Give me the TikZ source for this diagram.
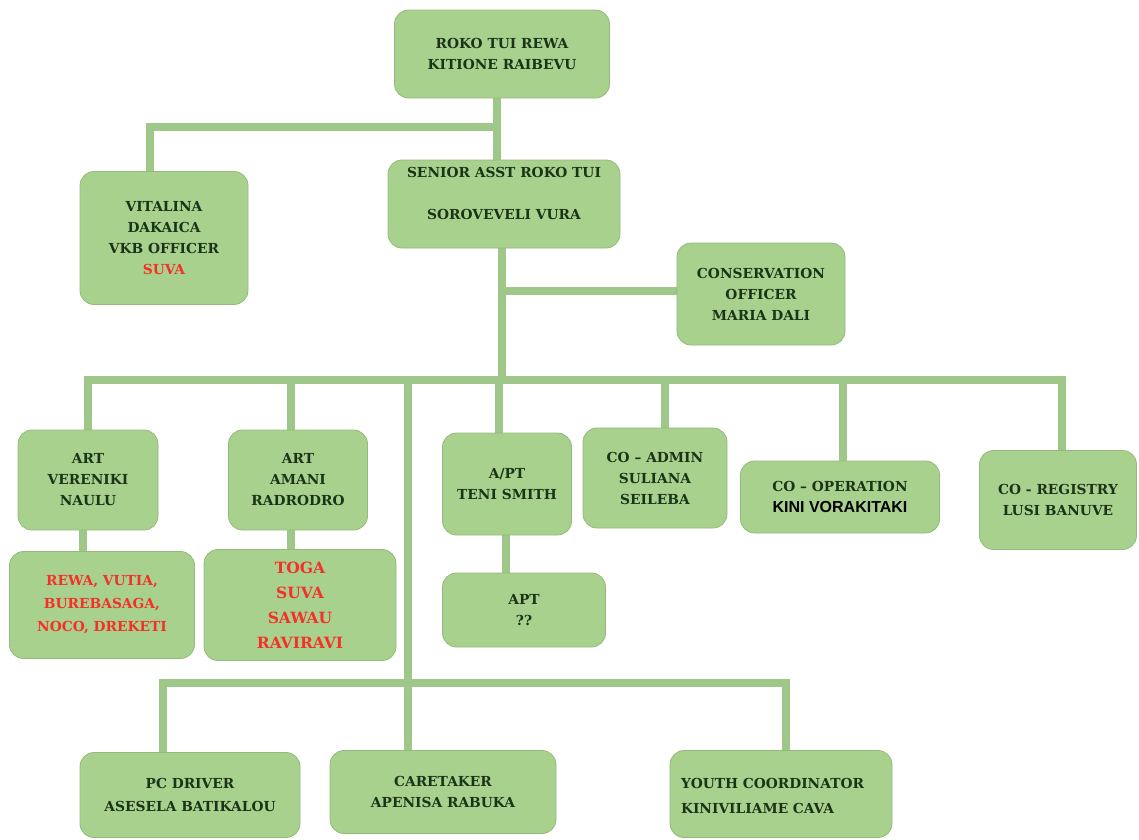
\documentclass[tikz,border=0pt]{standalone}
\usepackage{fontspec}
\setmainfont{DejaVu Serif}
\usepackage{xcolor}
\usepackage{tikz}
\usetikzlibrary{positioning, backgrounds}

\definecolor{boxgreen}{HTML}{A9D18E}
\definecolor{boxedge}{HTML}{93B97C}
\definecolor{linegreen}{HTML}{9FC789}
\definecolor{inkgreen}{HTML}{1B3317}
\definecolor{placered}{HTML}{F5302A}

\begin{document}
\begin{tikzpicture}[
  x=1pt, y=-1pt,
  font=\bfseries\fontsize{13.8}{21}\selectfont,
  post/.style={draw=boxedge, line width=0.8pt, fill=boxgreen, rounded corners=14pt, align=center, text=inkgreen, inner sep=2pt},
  places/.style={post, text=placered},
  conn/.style={draw=linegreen, line width=7.5pt}
]
\useasboundingbox (0,0) rectangle (1139,839);

\coordinate (jTop) at (497,127);
\coordinate (jSenior) at (502,291);
\coordinate (jMain) at (502,380);
\coordinate (jLow) at (408,683);

% head and senior assistant
\node[post, minimum width=215, minimum height=88] (roko) at (502,54) {ROKO TUI REWA\\KITIONE RAIBEVU};
\node[post, minimum width=232, minimum height=88] (senior) at (504,204) {SENIOR ASST ROKO TUI\\ \\SOROVEVELI VURA\\ \mbox{}};
\node[post, minimum width=168, minimum height=133] (vital) at (164,238) {VITALINA\\DAKAICA\\VKB OFFICER\\\textcolor{placered}{SUVA}};
\node[post, minimum width=168, minimum height=102] (cons) at (761,294) {CONSERVATION\\OFFICER\\MARIA DALI};

% second row
\node[post, minimum width=140, minimum height=100] (artv) at (88,480) {ART\\VERENIKI\\NAULU};
\node[post, minimum width=139, minimum height=100] (arta) at (298,480) {ART\\AMANI\\RADRODRO};
\node[post, minimum width=129, minimum height=102] (apt) at (507,484) {A/PT\\TENI SMITH};
\node[post, minimum width=144, minimum height=100] (coadmin) at (655,478) {CO -- ADMIN\\SULIANA\\SEILEBA};
\node[post, minimum width=199, minimum height=72] (coop) at (840,497) {CO -- OPERATION\\{\fontspec{Liberation Sans}\bfseries\fontsize{16}{23}\selectfont\color{black}KINI VORAKITAKI}};
\node[post, minimum width=157, minimum height=99] (coreg) at (1058,500) {CO - REGISTRY\\LUSI BANUVE};

% districts and assistant
\node[places, minimum width=185, minimum height=107, font=\bfseries\fontsize{13.8}{23}\selectfont] (rewa) at (102,605) {REWA, VUTIA,\\BUREBASAGA,\\NOCO, DREKETI};
\node[places, minimum width=192, minimum height=111, font=\bfseries\fontsize{15.5}{25}\selectfont] (toga) at (300,605) {TOGA\\SUVA\\SAWAU\\RAVIRAVI};
\node[post, minimum width=163, minimum height=74] (apt2) at (524,610) {APT\\??};

% bottom row
\node[post, minimum width=220, minimum height=85, font=\bfseries\fontsize{13.8}{23}\selectfont] (pcd) at (190,795) {PC DRIVER\\ASESELA BATIKALOU};
\node[post, minimum width=226, minimum height=83] (care) at (443,792) {CARETAKER\\APENISA RABUKA};
\node[post, minimum width=222, minimum height=87, align=left, text width=200, font=\bfseries\fontsize{13.8}{25}\selectfont] (youth) at (781,794) {\\[-10pt]YOUTH COORDINATOR\\KINIVILIAME CAVA};

% connectors behind the boxes
\begin{pgfonlayer}{background}
\draw[conn] (roko.south -| jTop) -- (senior.north -| jTop);
\draw[conn] (jTop) -| ([xshift=-14pt]vital.north);
\draw[conn] (senior.south -| jMain) -- (jMain);
\draw[conn] (jSenior) -- (cons.west |- jSenior);
\draw[conn] (artv.north) |- (jMain) -| ([xshift=4pt]coreg.north);
\draw[conn] ([xshift=-7pt]arta.north) -- ([xshift=-7pt]arta.north |- jMain);
\draw[conn] ([xshift=-8pt]apt.north) -- ([xshift=-8pt]apt.north |- jMain);
\draw[conn] ([xshift=10pt]coadmin.north) -- ([xshift=10pt]coadmin.north |- jMain);
\draw[conn] ([xshift=3pt]coop.north) -- ([xshift=3pt]coop.north |- jMain);
\draw[conn] (jLow |- jMain) -- ([xshift=-35pt]care.north);
\draw[conn] ([xshift=-27pt]pcd.north) |- (jLow) -| ([xshift=5pt]youth.north);
\draw[conn] ([xshift=-5pt]artv.south) -- ([xshift=-5pt]artv.south |- rewa.north);
\draw[conn] ([xshift=-7pt]arta.south) -- ([xshift=-7pt]arta.south |- toga.north);
\draw[conn] ([xshift=-1pt]apt.south) -- ([xshift=-1pt]apt.south |- apt2.north);
\end{pgfonlayer}
\end{tikzpicture}
\end{document}
